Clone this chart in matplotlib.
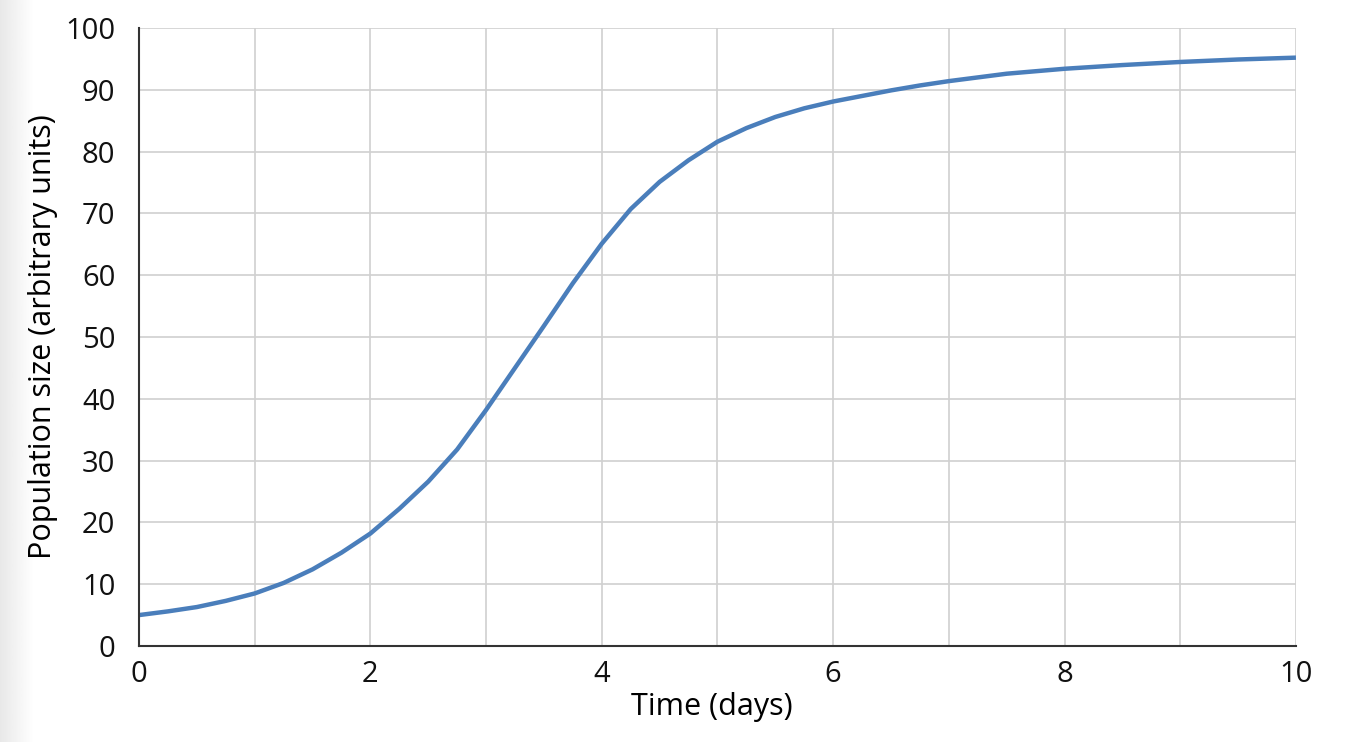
import numpy as np
import matplotlib.pyplot as plt

# Population growth
time_days = [0, 0.25, 0.5, 0.75, 1, 1.25, 1.5, 1.75, 2, 2.25, 2.5, 2.75, 3, 3.25, 3.5,
             3.75, 4, 4.25, 4.5, 4.75, 5, 5.25, 5.5, 5.75, 6, 6.25, 6.5, 6.75, 7, 7.5,
             8, 8.5, 9, 9.5, 10]
population = [5.0, 5.6, 6.3, 7.3, 8.5, 10.2, 12.4, 15.1, 18.2, 22.2, 26.6, 31.8, 38.2,
              45.0, 51.8, 58.7, 65.1, 70.7, 75.1, 78.6, 81.6, 83.8, 85.6, 87.0, 88.1,
              89.0, 89.9, 90.7, 91.4, 92.6, 93.4, 94.0, 94.5, 94.9, 95.2]
x_ticks = [0, 2, 4, 6, 8, 10]
y_ticks = [0, 10, 20, 30, 40, 50, 60, 70, 80, 90, 100]

plt.rcParams['font.family'] = ['Open Sans', 'DejaVu Sans']

fig = plt.figure(figsize=(13.47, 7.42), dpi=100)

# faint grey shade at the left edge of the screenshot
shade = fig.add_axes([0, 0, 0.025, 1])
grad = np.linspace(0.91, 1.0, 64).reshape(1, -1)
shade.imshow(grad, cmap='gray', vmin=0, vmax=1, aspect='auto', extent=[0, 1, 0, 1])
shade.axis('off')

ax = fig.add_axes([0.1032, 0.1294, 0.8589, 0.8329])
ax.plot(time_days, population, color='#4a7ebb', linewidth=3.2,
        solid_capstyle='butt', solid_joinstyle='round')

ax.set_xlim(0, 10)
ax.set_ylim(0, 100)
ax.set_xticks(x_ticks)
ax.set_xticks(range(11), minor=True)
ax.set_yticks(y_ticks)
ax.grid(True, which='both', color='#d0d0d0', linewidth=1.2)
ax.set_axisbelow(True)
ax.tick_params(which='both', length=0, labelsize=21, colors='#111111')
ax.tick_params(axis='x', pad=10)
ax.tick_params(axis='y', pad=17)

for side in ['top', 'right']:
    ax.spines[side].set_visible(False)
for side in ['left', 'bottom']:
    ax.spines[side].set_color('#333333')
    ax.spines[side].set_linewidth(1.5)

ax.set_xlabel('Time (days)', fontsize=22, labelpad=3)
ax.xaxis.set_label_coords(0.495, -0.075)
ax.set_ylabel('Population size (arbitrary units)', fontsize=22, labelpad=5)

fig.savefig('out.png', dpi=100)
